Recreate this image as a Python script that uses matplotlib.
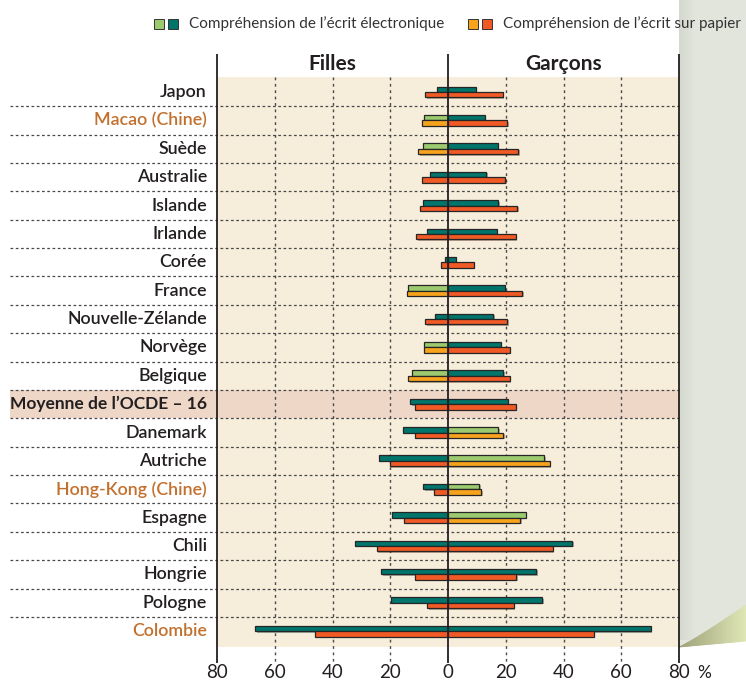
import numpy as np
import matplotlib
matplotlib.use('Agg')
import matplotlib.pyplot as plt
from matplotlib.patches import Rectangle, Polygon
import matplotlib.patheffects as pe

# --- data (% de faibles performeurs, filles a gauche, garcons a droite) ---
pays = ['Japon', 'Macao (Chine)', 'Suède', 'Australie', 'Islande', 'Irlande',
        'Corée', 'France', 'Nouvelle-Zélande', 'Norvège', 'Belgique',
        'Moyenne de l\u2019OCDE \u2013 16', 'Danemark', 'Autriche',
        'Hong-Kong (Chine)', 'Espagne', 'Chili', 'Hongrie', 'Pologne', 'Colombie']
elec_filles = [3.7, 8.3, 8.8, 6.1, 8.5, 7.4, 1.0, 13.8, 4.6, 8.3, 12.4, 13.0,
               15.6, 23.9, 8.6, 19.4, 32.3, 23.1, 19.9, 66.8]
elec_garcons = [9.6, 12.7, 17.2, 13.2, 17.4, 16.8, 2.7, 19.7, 15.7, 18.2, 19.2, 20.8,
                17.4, 33.4, 10.9, 27.0, 43.0, 30.6, 32.7, 70.2]
papier_filles = [7.9, 9.0, 10.3, 9.0, 9.8, 11.0, 2.4, 14.1, 7.8, 8.3, 13.7, 11.5,
                 11.4, 20.2, 4.7, 15.2, 24.7, 11.3, 7.2, 45.9]
papier_garcons = [18.9, 20.6, 24.3, 19.8, 24.0, 23.4, 8.9, 25.8, 20.6, 21.5, 21.5, 23.4,
                  19.2, 35.3, 11.6, 25.1, 36.2, 23.7, 22.8, 50.4]
# lighter shade = difference not significant
pale_filles = [0, 1, 1, 0, 0, 0, 0, 1, 0, 1, 1, 0, 0, 0, 0, 0, 0, 0, 0, 0]
pale_garcons = [0, 0, 0, 0, 0, 0, 0, 0, 0, 0, 0, 0, 1, 1, 1, 1, 0, 0, 0, 0]
partenaires = ['Macao (Chine)', 'Hong-Kong (Chine)', 'Colombie']
moyenne = 'Moyenne de l\u2019OCDE \u2013 16'
ticks = [-80, -60, -40, -20, 0, 20, 40, 60, 80]
tick_labels = ['80', '60', '40', '20', '0', '20', '40', '60', '80']

TEAL, GREEN = '#00756b', '#9ccb6f'
RED, YELLOW = '#f15a25', '#f8a31c'
BEIGE, PINK = '#f6eddb', '#efd7c8'
DARK, ORANGE = '#231f20', '#c2702e'
FONT = 'Lato'

W, H = 746, 682
fig = plt.figure(figsize=(W / 100, H / 100), dpi=100)
fig.patch.set_facecolor('white')

# plot area: x -80..80 -> px 217..679, rows 92 + 28.37*i
ax = fig.add_axes([217 / W, 1 - 647 / H, (679 - 217) / W, (647 - 77) / H])
ax.set_facecolor(BEIGE)
for s in ax.spines.values():
    s.set_visible(False)
ax.set_xticks([])
ax.set_yticks([])
ax.set_xlim(-80, 80)
ax.set_ylim(19.56, -0.53)

n = len(pays)
y = np.arange(n)
px_per_unit = (679 - 217) / 160.0
x_left = (10 - 448) / px_per_unit
x_lab = (207 - 448) / px_per_unit

# OECD band
i_m = pays.index(moyenne)
ax.add_patch(Rectangle((x_left, i_m - 0.5), 80 - x_left, 1.0, facecolor=PINK,
                       edgecolor='none', clip_on=False, zorder=0.5))

# separators
for i in range(n - 1):
    ax.plot([x_left, 80], [i + 0.5, i + 0.5], color='#4a4a4a', lw=0.9,
            ls=(0, (2.2, 2.0)), clip_on=False, zorder=1)

# vertical dotted grid
for t in [-60, -40, -20, 20, 40, 60]:
    ax.plot([t, t], [-0.53, 20.12], color='#4a4a4a', lw=1.0,
            ls=(0, (2.0, 2.6)), clip_on=False, zorder=1)

# bars
h = 0.19
shadow = [pe.SimplePatchShadow(offset=(1, -1), alpha=0.35), pe.Normal()]
ce_f = [GREEN if p else TEAL for p in pale_filles]
ce_g = [GREEN if p else TEAL for p in pale_garcons]
cp_f = [YELLOW if p else RED for p in pale_filles]
cp_g = [YELLOW if p else RED for p in pale_garcons]
bars = []
bars.append(ax.barh(y - h / 2, -np.array(elec_filles), height=h, color=ce_f))
bars.append(ax.barh(y - h / 2, elec_garcons, height=h, color=ce_g))
bars.append(ax.barh(y + h / 2, -np.array(papier_filles), height=h, color=cp_f))
bars.append(ax.barh(y + h / 2, papier_garcons, height=h, color=cp_g))
for b in bars:
    for r in b:
        r.set_edgecolor('#262626')
        r.set_linewidth(0.9)
        r.set_zorder(3)
        r.set_path_effects(shadow)

# solid axes lines
for t in [-80, 0, 80]:
    ax.plot([t, t], [-1.34, 20.13], color=DARK, lw=1.3, clip_on=False,
            zorder=4, solid_capstyle='butt')

# country labels
for i, p in enumerate(pays):
    col = ORANGE if p in partenaires else DARK
    if p == moyenne:
        ax.text(x_lab, i, p, ha='right', va='center', fontsize=12.5, color=col,
                fontweight='bold', family=FONT, clip_on=False)
    else:
        ax.text(x_lab, i, p, ha='right', va='center', fontsize=12.8, color=col,
                fontweight='semibold', family=FONT, clip_on=False)

# headers
ax.text(-40, -1.0, 'Filles', ha='center', va='center', fontsize=15,
        fontweight='bold', color=DARK, family=FONT)
ax.text(40, -1.0, 'Garçons', ha='center', va='center', fontsize=15,
        fontweight='bold', color=DARK, family=FONT)

# tick labels
for t, lab in zip(ticks, tick_labels):
    ax.text(t, 20.47, lab, ha='center', va='center', fontsize=13.5,
            color=DARK, family=FONT)
ax.text(88.8, 20.47, '%', ha='center', va='center', fontsize=12.5,
        color=DARK, family=FONT)

# page curl on the right
tt = np.linspace(0, 1, 60)
cx = 679 + 67 * tt
upper = 647 - 42 * tt ** 1.1
lower = 647 - 6 * tt
gray = [(679, 0), (746, 0)] + list(zip(cx[::-1], upper[::-1]))
fig.patches.append(Polygon([(x / W, 1 - yy / H) for x, yy in gray],
                           closed=True, facecolor='#e2e5dc', edgecolor='none',
                           transform=fig.transFigure, zorder=-1))
for k in range(10):
    fig.patches.append(Rectangle(((679 + k * 1.5) / W, 1 - 640 / H), 1.5 / W, 640 / H,
                                 facecolor='#9aa093', alpha=0.18 * (1 - k / 10),
                                 edgecolor='none', transform=fig.transFigure, zorder=-1))
# curl shaded from dark olive (left tip) to pale yellow-green
for k in range(len(tt) - 1):
    seg = [(cx[k], upper[k]), (cx[k + 1], upper[k + 1]),
           (cx[k + 1], lower[k + 1]), (cx[k], lower[k])]
    f = k / (len(tt) - 2)
    col = np.array([0.62, 0.63, 0.47]) * (1 - f) + np.array([0.87, 0.90, 0.71]) * f
    fig.patches.append(Polygon([(x / W, 1 - yy / H) for x, yy in seg],
                               closed=True, facecolor=col, edgecolor=col, lw=0.6,
                               transform=fig.transFigure, zorder=-1))

# legend
def square(x0, col):
    fig.patches.append(Rectangle((x0 / W, 1 - 29 / H), 10 / W, 10 / H,
                                 facecolor=col, edgecolor='#333333', lw=0.7,
                                 transform=fig.transFigure))

square(154, GREEN)
square(168, TEAL)
fig.text(189 / W, 1 - 24 / H, 'Compréhension de l\u2019écrit électronique',
         ha='left', va='center', fontsize=11, color='#333333', family=FONT)
square(468, YELLOW)
square(482, RED)
fig.text(503 / W, 1 - 24 / H, 'Compréhension de l\u2019écrit sur papier',
         ha='left', va='center', fontsize=11, color='#333333', family=FONT)

fig.savefig('out.png', dpi=100)
